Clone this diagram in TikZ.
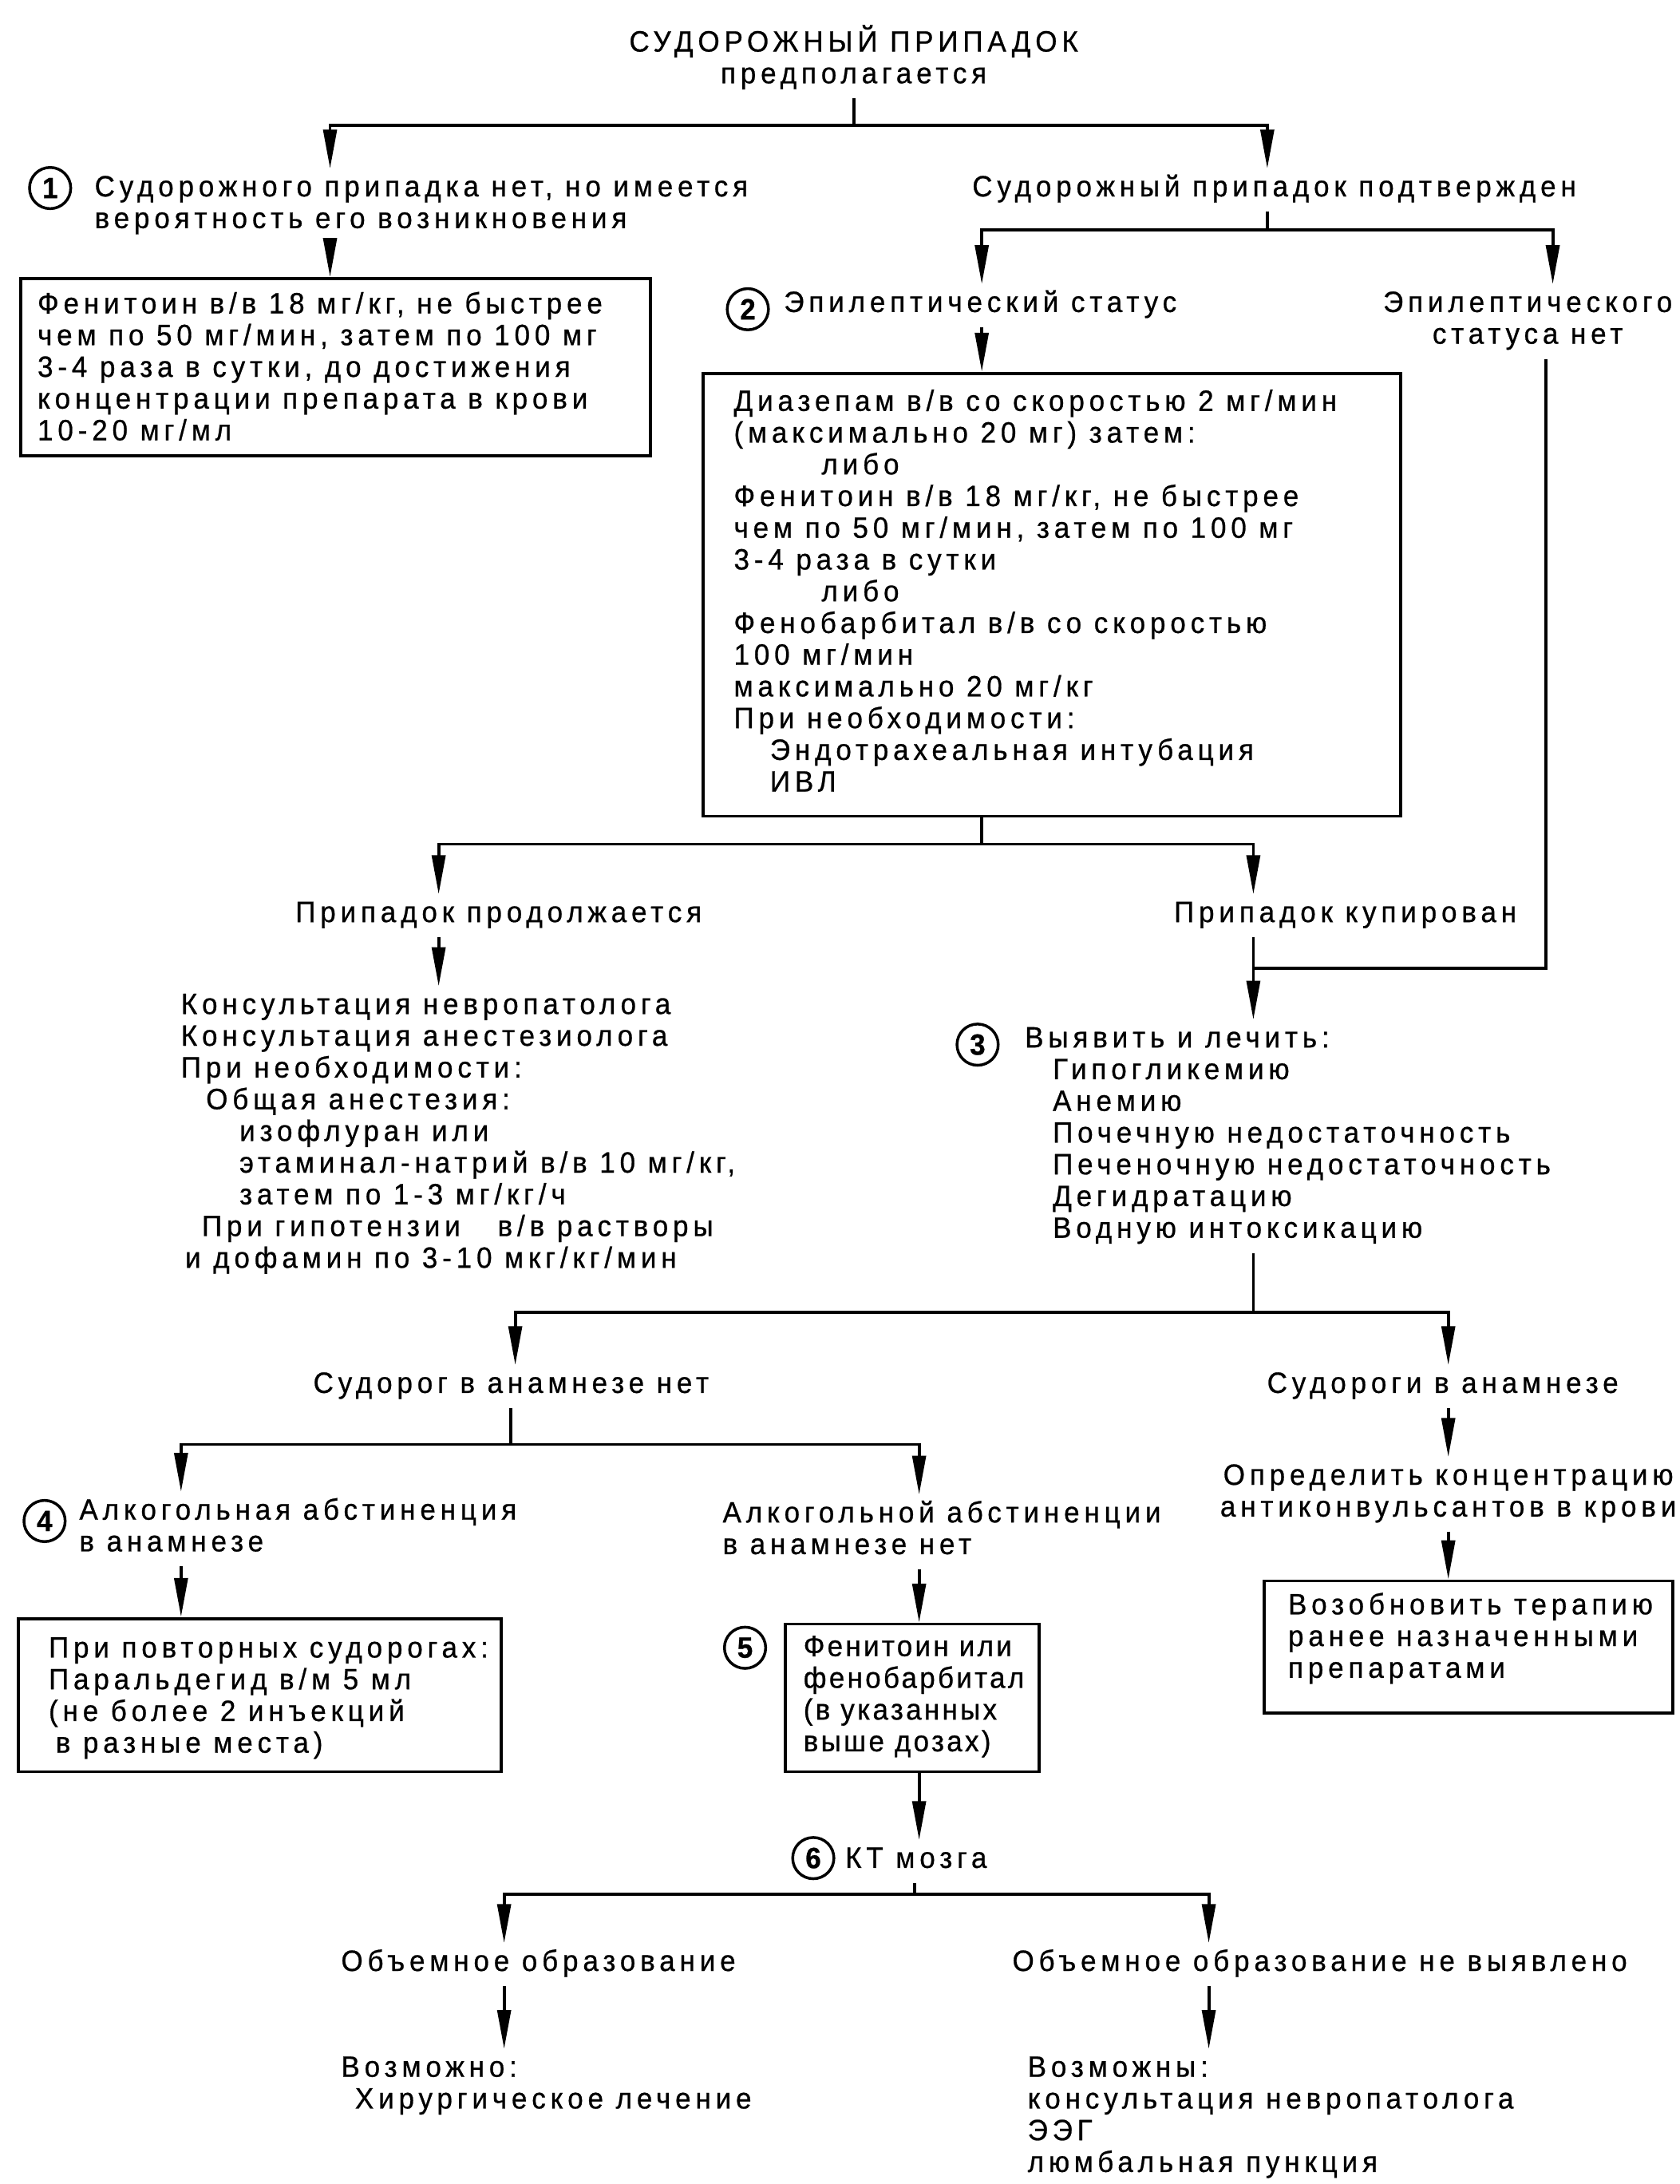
\documentclass[tikz,border=0pt]{standalone}
\usepackage{fontspec}
\setmainfont{Liberation Sans}[FakeStretch=0.95,LetterSpace=16,FakeBold=0.7]
\usetikzlibrary{arrows.meta,fit}
\newcommand{\mytl}[1]{\begin{tabular}[t]{@{}l@{}}#1\end{tabular}}
\newcommand{\mytc}[1]{\begin{tabular}[t]{@{}c@{}}#1\end{tabular}}
\newcommand{\ind}[1]{\hspace*{#1}}
\begin{document}
\begin{tikzpicture}[x=0.25mm,y=-0.25mm,
 font=\fontsize{15pt}{16.2pt}\selectfont,
 ln/.style={line width=0.55mm},
 arr/.style={ln,-{Triangle[length=7mm,width=2.4mm]}},
 txt/.style={inner sep=0pt,outer xsep=0pt,outer ysep=1mm},
 tl/.style={txt,anchor=base west},
 tc/.style={txt,anchor=base},
 box/.style={draw,line width=0.55mm,inner sep=0pt},
 num/.style={circle,draw,line width=0.5mm,minimum size=7.4mm,inner sep=0pt,font=\fontsize{15pt}{16pt}\selectfont\bfseries}]
\useasboundingbox[fill=white] (0,0) rectangle (1206,1568);

\node[tc] (title) at (613,37) {\mytc{СУДОРОЖНЫЙ ПРИПАДОК\\предполагается}};
\coordinate (j1) at (613,90);
\coordinate (j1l) at (237,90);
\coordinate (j1r) at (910,90);

\node[num] (c1) at (36,135) {1};
\node[tl] (t1) at (68,141) {\mytl{Судорожного припадка нет, но имеется\\вероятность его возникновения}};
\node[tc] (conf) at (915,141) {\mytc{Судорожный припадок подтвержден}};
\draw[ln] (title.south -| j1) -- (j1);
\draw[arr] (j1) -- (j1l) -- (t1.north -| j1l);
\draw[arr] (j1) -- (j1r) -- (conf.north -| j1r);

\node[box,fit={(15,200) (467,327)}] (b1) {};
\node[tl] (b1t) at (27,225) {\mytl{Фенитоин в/в 18 мг/кг, не быстрее\\чем по 50 мг/мин, затем по 100 мг\\3-4 раза в сутки, до достижения\\концентрации препарата в крови\\10-20 мг/мл}};
\draw[arr] (t1.south -| j1l) -- (b1.north -| j1l);

\coordinate (j2) at (910,165);
\coordinate (j2l) at (705,165);
\coordinate (j2r) at (1115,165);
\draw[ln] (conf.south -| j2) -- (j2);
\node[num] (c2) at (537,222) {2};
\node[tl] (t2) at (563,224) {\mytl{Эпилептический статус}};
\node[tc] (t2n) at (1097,224) {\mytc{Эпилептического\\статуса нет}};
\draw[arr] (j2) -- (j2l) -- (t2.north -| j2l);
\draw[arr] (j2) -- (j2r) -- (t2n.north -| j2r);

\node[box,fit={(505,268) (1006,586)}] (b2) {};
\node[tl] (b2t) at (527,295) {\mytl{Диазепам в/в со скоростью 2 мг/мин\\(максимально 20 мг) затем:\\\ind{15.75mm}либо\\Фенитоин в/в 18 мг/кг, не быстрее\\чем по 50 мг/мин, затем по 100 мг\\3-4 раза в сутки\\\ind{15.75mm}либо\\Фенобарбитал в/в со скоростью\\100 мг/мин\\максимально 20 мг/кг\\При необходимости:\\\ind{6.5mm}Эндотрахеальная интубация\\\ind{6.5mm}ИВЛ}};
\draw[arr] (t2.south -| j2l) -- (b2.north -| j2l);

\coordinate (j3) at (705,606);
\coordinate (j3l) at (315,606);
\coordinate (j3r) at (900,606);
\draw[ln] (b2.south -| j3) -- (j3);
\node[tc] (t3) at (358,662) {\mytc{Припадок продолжается}};
\node[tc] (t4) at (966,662) {\mytc{Припадок купирован}};
\draw[arr] (j3) -- (j3l) -- (t3.north -| j3l);
\draw[arr] (j3) -- (j3r) -- (t4.north -| j3r);

\node[tl] (t3b) at (130,728) {\mytl{Консультация невропатолога\\Консультация анестезиолога\\При необходимости:\\\ind{4.5mm}Общая анестезия:\\\ind{10.5mm}изофлуран или\\\ind{10.5mm}этаминал-натрий в/в 10 мг/кг,\\\ind{10.5mm}затем по 1-3 мг/кг/ч\\\ind{3.75mm}При гипотензии\ \ \ в/в растворы\\\ind{0.75mm}и дофамин по 3-10 мкг/кг/мин}};
\draw[arr] (t3.south -| j3l) -- (t3b.north -| j3l);

\coordinate (j4) at (900,695);
\coordinate (j4r) at (1110,695);
\draw[ln] (t2n.south -| j4r) -- (j4r) -- (j4);
\draw[ln] (t4.south -| j4) -- (j4);
\node[num] (c3) at (702,750) {3};
\node[tl] (t5) at (736,752) {\mytl{Выявить и лечить:\\\ind{5mm}Гипогликемию\\\ind{5mm}Анемию\\\ind{5mm}Почечную недостаточность\\\ind{5mm}Печеночную недостаточность\\\ind{5mm}Дегидратацию\\\ind{5mm}Водную интоксикацию}};
\draw[arr] (j4) -- (t5.north -| j4);

\coordinate (j5) at (900,942);
\coordinate (j5l) at (370,942);
\coordinate (j5r) at (1040,942);
\draw[ln] (t5.south -| j5) -- (j5);
\node[tc] (t6) at (367,1000) {\mytc{Судорог в анамнезе нет}};
\node[tc] (t7) at (1036,1000) {\mytc{Судороги в анамнезе}};
\draw[arr] (j5) -- (j5l) -- (t6.north -| j5l);
\draw[arr] (j5) -- (j5r) -- (t7.north -| j5r);

\coordinate (j6) at (367,1037);
\coordinate (j6l) at (130,1037);
\coordinate (j6r) at (660,1037);
\draw[ln] (t6.south -| j6) -- (j6);
\node[num] (c4) at (32,1092) {4};
\node[tl] (t8) at (57,1091) {\mytl{Алкогольная абстиненция\\в анамнезе}};
\node[tl] (t9) at (519,1093) {\mytl{Алкогольной абстиненции\\в анамнезе нет}};
\draw[arr] (j6) -- (j6l) -- (t8.north -| j6l);
\draw[arr] (j6) -- (j6r) -- (t9.north -| j6r);

\node[tc] (t10) at (1040,1066) {\mytc{Определить концентрацию\\антиконвульсантов в крови}};
\draw[arr] (t7.south -| j5r) -- (t10.north -| j5r);
\node[box,fit={(908,1135) (1201,1230)}] (b5) {};
\node[tl] (b5t) at (925,1159) {\mytl{Возобновить терапию\\ранее назначенными\\препаратами}};
\draw[arr] (t10.south -| j5r) -- (b5.north -| j5r);

\node[box,fit={(13,1162) (360,1272)}] (b3) {};
\node[tl] (b3t) at (35,1190) {\mytl{При повторных судорогах:\\Паральдегид в/м 5 мл\\(не более 2 инъекций\\\ind{1.25mm}в разные места)}};
\draw[arr] (t8.south -| j6l) -- (b3.north -| j6l);

\node[num] (c5) at (535,1183) {5};
\node[box,fit={(564,1166) (746,1272)}] (b4) {};
\node[tl,font=\fontsize{15pt}{16.2pt}\selectfont\addfontfeature{LetterSpace=9}] (b4t) at (577,1189) {\mytl{Фенитоин или\\фенобарбитал\\(в указанных\\выше дозах)}};
\draw[arr] (t9.south -| j6r) -- (b4.north -| j6r);

\node[num] (c6) at (584,1334) {6};
\node[tl] (t11) at (607,1341) {\mytl{КТ мозга}};
\draw[arr] (b4.south -| j6r) -- (t11.north -| j6r);

\coordinate (j7) at (657,1360);
\coordinate (j7l) at (362,1360);
\coordinate (j7r) at (868,1360);
\draw[ln] (t11.south -| j7) -- (j7);
\node[tl] (t12) at (245,1415) {\mytl{Объемное образование}};
\node[tl] (t13) at (727,1415) {\mytl{Объемное образование не выявлено}};
\draw[arr] (j7) -- (j7l) -- (t12.north -| j7l);
\draw[arr] (j7) -- (j7r) -- (t13.north -| j7r);
\node[tl] (t14) at (245,1491) {\mytl{Возможно:\\\ind{2.5mm}Хирургическое лечение}};
\node[tl] (t15) at (738,1491) {\mytl{Возможны:\\консультация невропатолога\\ЭЭГ\\люмбальная пункция}};
\draw[arr] (t12.south -| j7l) -- (t14.north -| j7l);
\draw[arr] (t13.south -| j7r) -- (t15.north -| j7r);
\end{tikzpicture}
\end{document}
